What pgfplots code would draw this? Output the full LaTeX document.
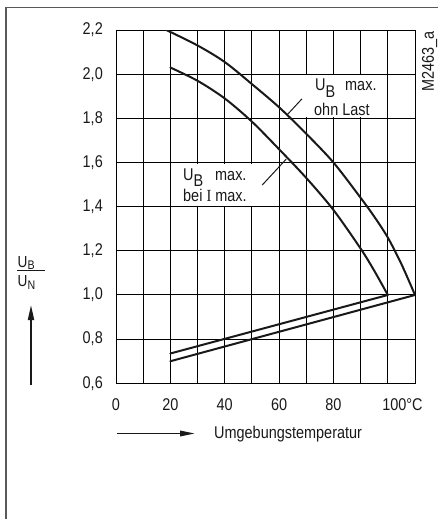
\documentclass[border=0pt]{standalone}
\usepackage{fontspec}
\setmainfont{Liberation Sans}[FakeStretch=0.85]
\newfontfamily\serifI{Liberation Serif}[FakeStretch=0.85]
\usepackage{pgfplots}
\pgfplotsset{compat=1.18}
\usetikzlibrary{arrows.meta}

\begin{document}
\begin{tikzpicture}[x=1pt, y=1pt, font=\fontsize{17}{20}\selectfont]
\path[use as bounding box] (0,0) rectangle (438,-519);
% frame (left and top only)
\draw[line width=1.6pt, gray!70!black] (5.8,-519) -- (5.8,-7.6) -- (438,-7.6);

\begin{axis}[
    at={(116pt,-383.3pt)}, anchor=south west,
    scale only axis, width=299pt, height=353.3pt,
    xmin=0, xmax=110, ymin=0.6, ymax=2.2,
    xtick={0,20,40,60,80,100},
    xticklabels={0,20,40,60,80,\rlap{\hspace{-5.5pt}100°C}},
    minor xtick={10,30,50,70,90,110},
    ytick={0.6,0.8,1.0,1.2,1.4,1.6,1.8,2.0,2.2},
    yticklabel={\pgfmathprintnumber[fixed,fixed zerofill,precision=1,use comma,assume math mode=true]{\tick}},
    grid=both,
    major grid style={black, line width=1pt},
    minor grid style={black, line width=1pt},
    axis line style={black, line width=1pt},
    major tick length=0pt, minor tick length=0pt,
    tick label style={font=\fontsize{17}{20}\selectfont, text=black!90},
    xticklabel style={anchor=north, inner sep=0pt, yshift=-15pt},
    yticklabel style={anchor=east, inner sep=0pt, xshift=-13pt},
]
% white boxes behind the annotations
\fill[white] (axis cs:69.5,1.805) rectangle (axis cs:98,1.995);
\fill[white] (axis cs:21,1.405) rectangle (axis cs:55,1.595);

% U_B max. ohn Last
\addplot[smooth, line width=2pt, black!90, line cap=round] coordinates {
    (18.5,2.2)(30,2.13)(40,2.055)(50,1.955)(60,1.85)(70,1.73)
    (80,1.6)(90,1.44)(95,1.355)(100,1.26)(105,1.14)(110,1.0)};
\addplot[line width=2pt, black!90, line cap=round] coordinates {(110,1.0)(20,0.70)};

% U_B max. bei I max.
\addplot[smooth, line width=2pt, black!90, line cap=round] coordinates {
    (20,2.03)(30,1.97)(40,1.89)(50,1.785)(60,1.66)(70,1.53)
    (80,1.385)(90,1.21)(95,1.11)(100,1.0)};
\addplot[line width=2pt, black!90, line cap=round] coordinates {(100,1.0)(20,0.735)};

% leader lines
\draw[line width=1pt, black!90] (axis cs:68.4,1.888) -- (axis cs:62.9,1.815);
\draw[line width=1pt, black!90] (axis cs:53.8,1.498) -- (axis cs:62.6,1.615);
\end{axis}

% annotations
\begin{scope}[every node/.style={anchor=base west, inner sep=0pt, text=black!90}]
\node at (315,-90.7) {U\raisebox{-6.5pt}{B}};
\node at (345,-90.7) {max.};
\node at (314,-115) {ohn Last};
\node at (183,-180) {U\raisebox{-6.5pt}{B}};
\node at (215,-180) {max.};
\node at (183,-201.7) {bei {\serifI I} max.};

% y label as fraction
\node[font=\fontsize{16}{18}\selectfont] at (17.5,-267.5) {U\raisebox{-1.6pt}{\fontsize{12.5}{14}\selectfont B}};
\node[font=\fontsize{16}{18}\selectfont] at (17.5,-286) {U\raisebox{-3pt}{\fontsize{12.5}{14}\selectfont N}};

\node at (214,-438.5) {Umgebungstemperatur};
\end{scope}
\draw[line width=1pt, black!90] (17,-270.5) -- (45,-270.5);

\draw[line width=1.8pt, black!90, -{Triangle[length=15pt, width=6pt]}] (31,-385) -- (31,-305);
\draw[line width=1.8pt, black!90, -{Triangle[length=15pt, width=5.5pt]}] (117,-433.5) -- (195,-433.5);

\node[rotate=90, anchor=east, inner sep=0pt, text=black!90] at (429.5,-31) {M2463\_a};
\end{tikzpicture}
\end{document}
